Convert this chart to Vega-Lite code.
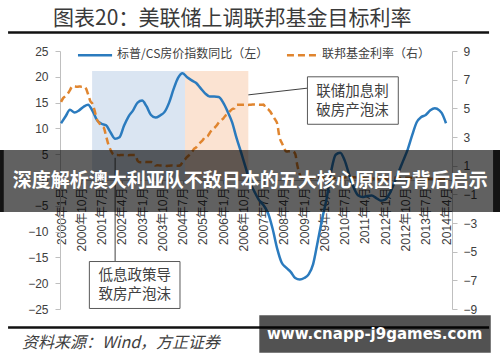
{
"$schema": "https://vega.github.io/schema/vega-lite/v6.json",
"width": 392, "height": 258,
"autosize": {"type": "none"},
"padding": {"left": 60, "top": 51, "right": 48, "bottom": 53},
"background": "white",
"config": {"view": {"stroke": null}},
"datasets": {
"blue": [
{"d":"2000-01","v":11.0},{"d":"2000-03","v":12.3},{"d":"2000-05","v":13.6},{"d":"2000-07","v":13.1},{"d":"2000-09","v":13.5},{"d":"2000-11","v":14.2},
{"d":"2001-01","v":14.6},{"d":"2001-03","v":13.4},{"d":"2001-05","v":11.6},{"d":"2001-07","v":10.9},{"d":"2001-09","v":10.6},{"d":"2001-11","v":9.2},
{"d":"2002-01","v":8.0},{"d":"2002-03","v":8.3},{"d":"2002-05","v":10.5},{"d":"2002-07","v":12.3},{"d":"2002-09","v":13.5},{"d":"2002-11","v":15.0},
{"d":"2003-01","v":15.4},{"d":"2003-03","v":14.3},{"d":"2003-05","v":12.6},{"d":"2003-07","v":12.1},{"d":"2003-09","v":12.5},{"d":"2003-11","v":13.2},
{"d":"2004-01","v":15.0},{"d":"2004-03","v":17.6},{"d":"2004-05","v":19.8},{"d":"2004-07","v":20.7},{"d":"2004-09","v":19.9},{"d":"2004-11","v":19.3},
{"d":"2005-01","v":18.8},{"d":"2005-03","v":17.8},{"d":"2005-05","v":16.8},{"d":"2005-07","v":16.2},{"d":"2005-09","v":16.2},{"d":"2005-11","v":16.1},
{"d":"2006-01","v":15.0},{"d":"2006-03","v":13.3},{"d":"2006-05","v":11.2},{"d":"2006-07","v":8.1},{"d":"2006-09","v":5.3},{"d":"2006-11","v":2.4},
{"d":"2007-01","v":-0.5},{"d":"2007-03","v":-2.3},{"d":"2007-05","v":-3.9},{"d":"2007-07","v":-4.9},{"d":"2007-09","v":-6.5},{"d":"2007-11","v":-9.5},
{"d":"2008-01","v":-13.3},{"d":"2008-03","v":-16.0},{"d":"2008-05","v":-17.0},{"d":"2008-07","v":-17.8},{"d":"2008-09","v":-19.0},{"d":"2008-11","v":-19.3},
{"d":"2009-01","v":-19.0},{"d":"2009-03","v":-18.3},{"d":"2009-05","v":-16.3},{"d":"2009-07","v":-12.0},{"d":"2009-09","v":-7.5},{"d":"2009-11","v":-3.5},
{"d":"2010-01","v":1.8},{"d":"2010-03","v":4.9},{"d":"2010-05","v":5.3},{"d":"2010-07","v":3.8},{"d":"2010-09","v":1.0},{"d":"2010-11","v":-1.5},
{"d":"2011-01","v":-3.0},{"d":"2011-03","v":-3.3},{"d":"2011-05","v":-3.1},{"d":"2011-07","v":-3.0},{"d":"2011-09","v":-3.5},{"d":"2011-11","v":-4.0},
{"d":"2012-01","v":-3.8},{"d":"2012-03","v":-2.6},{"d":"2012-05","v":-0.6},{"d":"2012-07","v":1.6},{"d":"2012-09","v":3.8},{"d":"2012-11","v":6.0},
{"d":"2013-01","v":8.8},{"d":"2013-03","v":11.2},{"d":"2013-05","v":12.2},{"d":"2013-07","v":12.6},{"d":"2013-09","v":13.5},{"d":"2013-11","v":13.9},
{"d":"2014-01","v":13.5},{"d":"2014-02","v":13.0},{"d":"2014-04","v":11.0}
],
"fed": [
{"d":"2000-01","r":5.45},{"d":"2000-02","r":5.73},{"d":"2000-03","r":5.85},{"d":"2000-04","r":6.02},{"d":"2000-05","r":6.27},{"d":"2000-06","r":6.53},{"d":"2000-07","r":6.54},{"d":"2000-08","r":6.50},{"d":"2000-09","r":6.52},{"d":"2000-10","r":6.51},{"d":"2000-11","r":6.51},{"d":"2000-12","r":6.40},
{"d":"2001-01","r":5.98},{"d":"2001-02","r":5.49},{"d":"2001-03","r":5.31},{"d":"2001-04","r":4.80},{"d":"2001-05","r":4.21},{"d":"2001-06","r":3.97},{"d":"2001-07","r":3.77},{"d":"2001-08","r":3.65},{"d":"2001-09","r":3.07},{"d":"2001-10","r":2.49},{"d":"2001-11","r":2.09},{"d":"2001-12","r":1.82},
{"d":"2002-01","r":1.73},{"d":"2002-02","r":1.74},{"d":"2002-03","r":1.73},{"d":"2002-04","r":1.75},{"d":"2002-05","r":1.75},{"d":"2002-06","r":1.75},{"d":"2002-07","r":1.73},{"d":"2002-08","r":1.74},{"d":"2002-09","r":1.75},{"d":"2002-10","r":1.75},{"d":"2002-11","r":1.34},{"d":"2002-12","r":1.24},
{"d":"2003-01","r":1.24},{"d":"2003-02","r":1.26},{"d":"2003-03","r":1.25},{"d":"2003-04","r":1.26},{"d":"2003-05","r":1.26},{"d":"2003-06","r":1.22},{"d":"2003-07","r":1.01},{"d":"2003-08","r":1.03},{"d":"2003-09","r":1.01},{"d":"2003-10","r":1.01},{"d":"2003-11","r":1.00},{"d":"2003-12","r":0.98},
{"d":"2004-01","r":1.00},{"d":"2004-02","r":1.01},{"d":"2004-03","r":1.00},{"d":"2004-04","r":1.00},{"d":"2004-05","r":1.00},{"d":"2004-06","r":1.03},{"d":"2004-07","r":1.26},{"d":"2004-08","r":1.43},{"d":"2004-09","r":1.61},{"d":"2004-10","r":1.76},{"d":"2004-11","r":1.93},{"d":"2004-12","r":2.16},
{"d":"2005-01","r":2.28},{"d":"2005-02","r":2.50},{"d":"2005-03","r":2.63},{"d":"2005-04","r":2.79},{"d":"2005-05","r":3.00},{"d":"2005-06","r":3.04},{"d":"2005-07","r":3.26},{"d":"2005-08","r":3.50},{"d":"2005-09","r":3.62},{"d":"2005-10","r":3.78},{"d":"2005-11","r":4.00},{"d":"2005-12","r":4.16},
{"d":"2006-01","r":4.29},{"d":"2006-02","r":4.49},{"d":"2006-03","r":4.59},{"d":"2006-04","r":4.79},{"d":"2006-05","r":4.94},{"d":"2006-06","r":4.99},{"d":"2006-07","r":5.24},{"d":"2006-08","r":5.25},{"d":"2006-09","r":5.25},{"d":"2006-10","r":5.25},{"d":"2006-11","r":5.25},{"d":"2006-12","r":5.24},
{"d":"2007-01","r":5.25},{"d":"2007-02","r":5.26},{"d":"2007-03","r":5.26},{"d":"2007-04","r":5.25},{"d":"2007-05","r":5.25},{"d":"2007-06","r":5.25},{"d":"2007-07","r":5.26},{"d":"2007-08","r":5.02},{"d":"2007-09","r":4.94},{"d":"2007-10","r":4.76},{"d":"2007-11","r":4.49},{"d":"2007-12","r":4.24},
{"d":"2008-01","r":3.94},{"d":"2008-02","r":2.98},{"d":"2008-03","r":2.61},{"d":"2008-04","r":2.28},{"d":"2008-05","r":1.98},{"d":"2008-06","r":2.00},{"d":"2008-07","r":2.01},{"d":"2008-08","r":2.00},{"d":"2008-09","r":1.81},{"d":"2008-10","r":0.97},{"d":"2008-11","r":0.39},{"d":"2008-12","r":0.16},
{"d":"2009-01","r":0.15},{"d":"2009-02","r":0.22},{"d":"2009-03","r":0.18},{"d":"2009-04","r":0.15},{"d":"2009-05","r":0.18},{"d":"2009-06","r":0.21},{"d":"2009-07","r":0.16},{"d":"2009-08","r":0.16},{"d":"2009-09","r":0.15},{"d":"2009-10","r":0.12},{"d":"2009-11","r":0.12},{"d":"2009-12","r":0.12},
{"d":"2010-01","r":0.11},{"d":"2010-02","r":0.13},{"d":"2010-03","r":0.16},{"d":"2010-04","r":0.20},{"d":"2010-05","r":0.20},{"d":"2010-06","r":0.18},{"d":"2010-07","r":0.18},{"d":"2010-08","r":0.19},{"d":"2010-09","r":0.19},{"d":"2010-10","r":0.19},{"d":"2010-11","r":0.19},{"d":"2010-12","r":0.18},
{"d":"2011-01","r":0.17},{"d":"2011-02","r":0.16},{"d":"2011-03","r":0.14},{"d":"2011-04","r":0.10},{"d":"2011-05","r":0.09},{"d":"2011-06","r":0.09},{"d":"2011-07","r":0.07},{"d":"2011-08","r":0.10},{"d":"2011-09","r":0.08},{"d":"2011-10","r":0.07},{"d":"2011-11","r":0.08},{"d":"2011-12","r":0.07},
{"d":"2012-01","r":0.08},{"d":"2012-02","r":0.10},{"d":"2012-03","r":0.13},{"d":"2012-04","r":0.14},{"d":"2012-05","r":0.16},{"d":"2012-06","r":0.16},{"d":"2012-07","r":0.16},{"d":"2012-08","r":0.13},{"d":"2012-09","r":0.14},{"d":"2012-10","r":0.16},{"d":"2012-11","r":0.16},{"d":"2012-12","r":0.16},
{"d":"2013-01","r":0.14},{"d":"2013-02","r":0.15},{"d":"2013-03","r":0.14},{"d":"2013-04","r":0.15},{"d":"2013-05","r":0.11},{"d":"2013-06","r":0.09},{"d":"2013-07","r":0.09},{"d":"2013-08","r":0.08},{"d":"2013-09","r":0.08},{"d":"2013-10","r":0.09},{"d":"2013-11","r":0.08},{"d":"2013-12","r":0.09},
{"d":"2014-01","r":0.07},{"d":"2014-02","r":0.07},{"d":"2014-03","r":0.08},{"d":"2014-04","r":0.09}
]
},
"encoding": {
"x": {"field": "d", "type": "temporal",
"scale": {"type": "utc", "nice": false, "domain": [{"year":1999,"month":12,"date":18,"utc":true},{"year":2014,"month":6,"date":21,"utc":true}]},
"axis": {"orient": "bottom", "offset": -129, "title": null, "grid": false,
"values": [{"year":2000,"month":1,"date":1,"utc":true},{"year":2000,"month":10,"date":1,"utc":true},{"year":2001,"month":7,"date":1,"utc":true},{"year":2002,"month":4,"date":1,"utc":true},{"year":2003,"month":1,"date":1,"utc":true},{"year":2003,"month":10,"date":1,"utc":true},{"year":2004,"month":7,"date":1,"utc":true},{"year":2005,"month":4,"date":1,"utc":true},{"year":2006,"month":1,"date":1,"utc":true},{"year":2006,"month":10,"date":1,"utc":true},{"year":2007,"month":7,"date":1,"utc":true},{"year":2008,"month":4,"date":1,"utc":true},{"year":2009,"month":1,"date":1,"utc":true},{"year":2009,"month":10,"date":1,"utc":true},{"year":2010,"month":7,"date":1,"utc":true},{"year":2011,"month":4,"date":1,"utc":true},{"year":2012,"month":1,"date":1,"utc":true},{"year":2012,"month":10,"date":1,"utc":true},{"year":2013,"month":7,"date":1,"utc":true},{"year":2014,"month":4,"date":1,"utc":true}],
"labelExpr": "utcFormat(datum.value, '%Y年%-m月')", "labelAngle": 270, "labelFontSize": 12, "labelColor": "#404040",
"labelFont": "Liberation Sans, Noto Sans CJK SC", "labelPadding": 3, "tickSize": 4, "tickColor": "#BFBFBF", "domainColor": "#BFBFBF",
"labelOverlap": false, "labelBound": false, "labelFlush": false}}
},
"layer": [
{
"encoding": {"y": {"field": "v", "type": "quantitative", "scale": {"domain": [-25, 25], "nice": false, "zero": false},
"axis": {"orient": "left", "values": [-25,-20,-15,-10,-5,0,5,10,15,20,25], "title": null, "grid": false, "domainColor": "#BFBFBF", "tickColor": "#BFBFBF", "tickSize": 5, "labelPadding": 7, "labelFontSize": 12, "labelColor": "#404040", "labelFont": "Liberation Sans"}}},
"layer": [
{"data": {"values": [{"d":"2001-02-24","d2":"2004-08-03","v":21.1,"v2":0,"c":"#DAE5F2"},{"d":"2004-08-03","d2":"2006-12-07","v":21.1,"v2":0,"c":"#FBE3D2"}]},
"mark": {"type": "rect"},
"encoding": {"x2": {"field": "d2"}, "y2": {"field": "v2"}, "color": {"field": "c", "type": "nominal", "scale": null}}},
{"data": {"name": "blue"}, "mark": {"type": "line", "color": "#2B7BBE", "strokeWidth": 2.5, "interpolate": "monotone"}, "encoding": {}}
]
},
{
"data": {"name": "fed"},
"mark": {"type": "line", "color": "#E0852F", "strokeWidth": 2.5, "strokeDash": [7, 4], "interpolate": "monotone"},
"encoding": {"y": {"field": "r", "type": "quantitative", "scale": {"domain": [-9, 9], "nice": false, "zero": false},
"axis": {"orient": "right", "values": [-9,-7,-5,-3,-1,1,3,5,7,9], "title": null, "grid": false, "domainColor": "#BFBFBF", "tickColor": "#BFBFBF", "tickSize": 5, "labelPadding": 6, "labelFontSize": 12, "labelColor": "#404040", "labelFont": "Liberation Sans"}}}
},
{
"encoding": {"y": {"field": "v", "type": "quantitative", "scale": {"domain": [-25, 25], "nice": false, "zero": false}, "axis": null}},
"layer": [
{"data": {"values": [{"d":"2006-12-07","d2":"2009-02-13","v":16.5,"v2":17.8},{"d":"2002-01-01","d2":"2002-01-01","v":4.3,"v2":-15.8}]},
"mark": {"type": "rule", "color": "#404040", "strokeWidth": 1},
"encoding": {"x2": {"field": "d2"}, "y2": {"field": "v2"}}},
{"data": {"values": [{"d":"2009-02-13","d2":"2012-06-25","v":20.0,"v2":10.8},{"d":"2001-01-18","d2":"2004-05-27","v":-15.8,"v2":-24.9}]},
"mark": {"type": "rect", "fill": "white", "stroke": "#595959", "strokeWidth": 1},
"encoding": {"x2": {"field": "d2"}, "y2": {"field": "v2"}}},
{"data": {"values": [{"d":"2010-10-15","v":17.1,"t":"联储加息刺"},{"d":"2010-10-15","v":13.4,"t":"破房产泡沫"},{"d":"2002-09-22","v":-18.7,"t":"低息政策导"},{"d":"2002-09-22","v":-22.3,"t":"致房产泡沫"}]},
"mark": {"type": "text", "font": "Noto Sans CJK SC", "fontSize": 14.5, "color": "#404040", "align": "center", "baseline": "middle"},
"encoding": {"text": {"field": "t"}}},
{"data": {"values": [{"d":"2000-08-17","d2":"2001-11-21","v":24.2}]},
"mark": {"type": "rule", "color": "#2B7BBE", "strokeWidth": 2.5},
"encoding": {"x2": {"field": "d2"}}},
{"data": {"values": [{"d":"2008-05-12","d2":"2009-08-03","v":24.2}]},
"mark": {"type": "rule", "color": "#E0852F", "strokeWidth": 2.5, "strokeDash": [7, 4]},
"encoding": {"x2": {"field": "d2"}}},
{"data": {"values": [{"d":"2002-01-28","v":24.4,"t":"标普/CS房价指数同比（左）"},{"d":"2009-08-28","v":24.4,"t":"联邦基金利率（右）"}]},
"mark": {"type": "text", "font": "Noto Sans CJK SC", "fontSize": 12, "color": "#404040", "align": "left", "baseline": "middle"},
"encoding": {"text": {"field": "t"}}},
{"data": {"values": [{"d":"1998-01-15","d2":"2015-11-04","v":28.6},{"d":"1998-01-15","d2":"2015-11-04","v":-28.6}]},
"mark": {"type": "rule", "color": "#111111", "strokeWidth": 2.5},
"encoding": {"x2": {"field": "d2"}}},
{"data": {"values": [{"d":"1999-09-14","v":31.2,"t":"图表20："}]},
"mark": {"type": "text", "font": "Noto Sans CJK SC", "fontSize": 21, "color": "#3A3A3A", "align": "left", "baseline": "middle"},
"encoding": {"text": {"field": "t"}}},
{"data": {"values": [{"d":"2007-12-03","v":31.2,"t":"美联储上调联邦基金目标利率"}]},
"mark": {"type": "text", "font": "Noto Sans CJK SC", "fontSize": 21, "color": "#3A3A3A", "align": "center", "baseline": "middle"},
"encoding": {"text": {"field": "t"}}},
{"data": {"values": [{"d":"1998-07-22","v":-31.6,"t":"资料来源：Wind，方正证券"}]},
"mark": {"type": "text", "font": "Noto Sans CJK SC", "fontSize": 16, "fontStyle": "italic", "color": "#404040", "align": "left", "baseline": "middle"},
"encoding": {"text": {"field": "t"}}},
{"data": {"values": [{"d":"1997-09-28","d2":"2016-04-01","v":5.81,"v2":-6.2}]},
"mark": {"type": "rect", "fill": "#000000", "opacity": 0.62},
"encoding": {"x2": {"field": "d2"}, "y2": {"field": "v2"}}},
{"data": {"values": [{"d":"1997-09-28","d2":"1997-11-18","v":5.81,"v2":-6.2},{"d":"2015-12-28","d2":"2016-04-01","v":5.81,"v2":-6.2}]},
"mark": {"type": "rect", "fill": "#000000", "opacity": 0.8},
"encoding": {"x2": {"field": "d2"}, "y2": {"field": "v2"}}},
{"data": {"values": [{"d":"2007-01-01","v":-0.2,"t":"深度解析澳大利亚队不敌日本的五大核心原因与背后启示"}]},
"mark": {"type": "text", "font": "Noto Sans CJK SC", "fontSize": 19, "fontWeight": "bold", "color": "#FFFFFF", "align": "center", "baseline": "middle"},
"encoding": {"text": {"field": "t"}}},
{"data": {"values": [{"d":"2007-05-04","d2":"2015-11-27","v":-26.2,"v2":-33.5}]},
"mark": {"type": "rect", "fill": "#000000", "opacity": 0.68},
"encoding": {"x2": {"field": "d2"}, "y2": {"field": "v2"}}},
{"data": {"values": [{"d":"2011-08-10","v":-29.8,"t":"www.cnapp-j9games.com"}]},
"mark": {"type": "text", "font": "DejaVu Sans", "fontSize": 15, "fontWeight": "bold", "color": "#FFFFFF", "align": "center", "baseline": "middle"},
"encoding": {"text": {"field": "t"}}}
]
}
],
"resolve": {"scale": {"y": "independent"}}
}
